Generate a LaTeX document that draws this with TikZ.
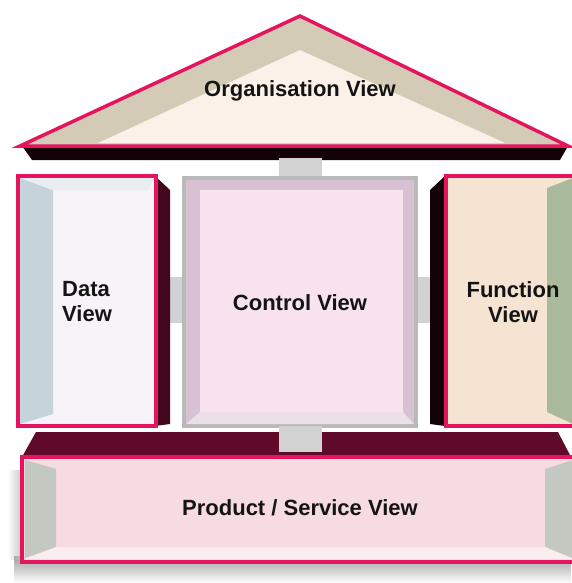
\documentclass[tikz,border=0pt]{standalone}
\usepackage{fontspec}
\setmainfont{Liberation Sans}
\usetikzlibrary{fadings}

\definecolor{housepink}{HTML}{E5145E}
\definecolor{maroon}{HTML}{5E0A28}
\definecolor{roofbeige}{HTML}{D3CBB5}
\definecolor{roofin}{HTML}{FCF1E8}
\definecolor{datain}{HTML}{F7F3F9}
\definecolor{datastrip}{HTML}{C5D3DB}
\definecolor{ctrlgray}{HTML}{B9B9B9}
\definecolor{ctrlrim}{HTML}{D7C1D2}
\definecolor{ctrlin}{HTML}{F8E2F0}
\definecolor{funcin}{HTML}{F6E4D2}
\definecolor{funcstrip}{HTML}{A9B99B}
\definecolor{prodin}{HTML}{F6DBE1}
\definecolor{prodside}{HTML}{C3C9C1}
\definecolor{jointgray}{HTML}{D2D2D2}

\begin{document}
\begin{tikzpicture}[x=1pt,y=-1pt,
    pinkframe/.style={draw=housepink,line width=3.5pt,line join=miter},
    darkside/.style={fill=black!80!maroon},
    joint/.style={fill=jointgray},
    viewtext/.style={font=\bfseries\fontsize{22}{25}\selectfont,
                     text=black!92,inner sep=0pt}]

\useasboundingbox[fill=white] (0,0) rectangle (571,583);

% roof
\fill[darkside] (22,146) -- (568,146) -- (560,160) -- (32,160) -- cycle;
\filldraw[pinkframe,fill=roofbeige] (20,146) -- (300,16) -- (568,146) -- cycle;
\fill[roofin] (98,143) -- (300,50) -- (505,143) -- cycle;
\node[viewtext] (org) at (300,91) {Organisation View};

% joints
\fill[joint] (279,158) rectangle (322,180);
\fill[joint] (166,277) rectangle (185,323);
\fill[joint] (414,277) rectangle (434,323);

% data view
\fill[darkside,fill=maroon!70!black] (155,176) -- (170,190) -- (170,424) -- (155,426) -- cycle;
\fill[datain] (18,176) rectangle (156,426);
\fill[datastrip] (20,178) -- (53,190) -- (53,414) -- (20,424) -- cycle;
\fill[datastrip!40] (20,178) -- (154,178) -- (148,190) -- (53,190) -- cycle;
\draw[pinkframe] (18,176) rectangle (156,426);
\node[viewtext,align=left,anchor=west] (data) at (62,302) {Data\\View};

% control view
\filldraw[draw=ctrlgray,line width=4pt,fill=ctrlrim] (184,178) rectangle (416,426);
\fill[ctrlrim!50] (186,424) -- (200,412) -- (403,412) -- (414,424) -- cycle;
\fill[ctrlin] (200,190) rectangle (403,412);
\node[viewtext] (ctrl) at (300,303) {Control View};

% function view
\fill[darkside] (430,190) -- (445,176) -- (445,426) -- (430,424) -- cycle;
\fill[funcin] (446,176) rectangle (575,426);
\fill[funcstrip] (547,188) -- (573,178) -- (573,424) -- (547,412) -- cycle;
\draw[pinkframe] (446,176) rectangle (575,426);
\node[viewtext,align=center] (func) at (513,302) {Function\\View};

% product / service view
\fill[gray!75,path fading=south] (14,556) rectangle (571,583);
\fill[gray!50,path fading=west] (8,470) rectangle (24,560);
\fill[maroon] (36,432) -- (558,432) -- (571,457) -- (22,457) -- cycle;
\fill[joint] (279,426) rectangle (322,452);
\fill[prodin] (22,457) rectangle (575,562);
\fill[prodside] (25,460) -- (56,469) -- (56,547) -- (25,558) -- cycle;
\fill[prodside] (573,460) -- (545,469) -- (545,547) -- (573,558) -- cycle;
\fill[prodin!50] (25,559) -- (56,547) -- (545,547) -- (573,559) -- cycle;
\draw[pinkframe] (22,457) rectangle (575,562);
\node[viewtext] (prod) at (300,508) {Product / Service View};

\end{tikzpicture}
\end{document}
